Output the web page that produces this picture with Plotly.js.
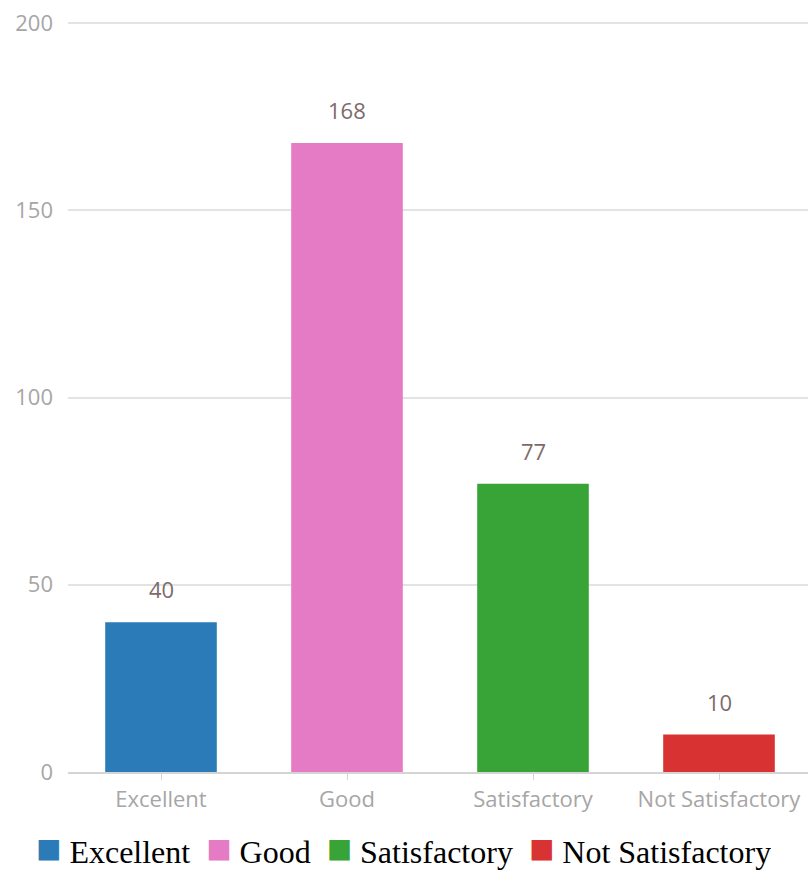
<!DOCTYPE html>
<html><head><meta charset="utf-8">
<script src="https://cdn.plot.ly/plotly-3.0.1.min.js"></script>
<style>html,body{margin:0;padding:0;overflow:hidden;background:#fff}</style>
</head><body><div id="chart"></div>
<script>
const categories = ["Excellent", "Good", "Satisfactory", "Not Satisfactory"];
const values = [40, 168, 77, 10];
const colors = ["#2b7bb9", "#e47bc4", "#38a337", "#d93232"];
const yTicks = [0, 50, 100, 150, 200];

const traces = categories.map((c, i) => ({
  type: "bar", x: [c], y: [values[i]], name: c,
  marker: {color: colors[i]}, width: 0.6, showlegend: false, hoverinfo: "x+y"
}));

const annotations = categories.map((c, i) => ({
  x: c, y: values[i], text: String(values[i]), showarrow: false,
  yanchor: "middle", yshift: 33,
  font: {family: "Open Sans, Noto Sans, sans-serif", size: 22, color: "#7d6b6b"}
}));

const NB = "\u00a0";
const legendText = categories.map((c, i) =>
  `<span style="color:${colors[i]};font-size:42px">■</span>${NB}${c}`).join(NB + NB);
annotations.push({
  xref: "paper", yref: "paper", x: 0.4516, y: -0.102, xanchor: "center", yanchor: "middle",
  height: 56, valign: "middle",
  text: legendText, showarrow: false,
  font: {family: "Liberation Serif, Times New Roman, serif", size: 32, color: "#000"}
});

const layout = {
  width: 812, height: 870,
  margin: {l: 68, r: 0, t: 22, b: 98},
  paper_bgcolor: "#fff", plot_bgcolor: "#fff",
  showlegend: false,
  xaxis: {type: "category", categoryarray: categories, showgrid: false,
          showline: true, linecolor: "#d4d4d4", linewidth: 2,
          ticks: "outside", ticklen: 6, tickcolor: "#d4d4d4", tickwidth: 1,
          ticklabelstandoff: 1,
          tickfont: {family: "Open Sans, Noto Sans, sans-serif", size: 22, color: "#a6a6a6"}},
  yaxis: {range: [0, 200.3], tickvals: yTicks, ticktext: yTicks.map(String),
          showgrid: true, gridcolor: "#e3e3e3", gridwidth: 2, zeroline: false,
          ticks: "", ticklabelstandoff: 14,
          tickfont: {family: "Open Sans, Noto Sans, sans-serif", size: 22, color: "#a6a6a6"}},
  annotations: annotations
};
Plotly.newPlot("chart", traces, layout, {displayModeBar: false, staticPlot: true});
</script></body></html>
